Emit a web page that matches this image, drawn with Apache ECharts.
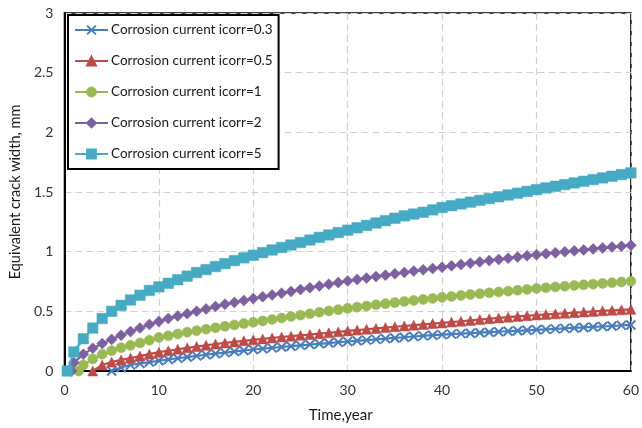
<!DOCTYPE html>
<html>
<head>
<meta charset="utf-8">
<script src="https://cdn.jsdelivr.net/npm/echarts@6/dist/echarts.min.js"></script>
<style>
html,body{margin:0;padding:0;background:#fff;}
#chart{width:642px;height:428px;}
</style>
</head>
<body>
<div id="chart"></div>
<script>
// ---- data ----
const years = [1,2,3,4,5,6,7,8,9,10,11,12,13,14,15,16,17,18,19,20,21,22,23,24,25,26,27,28,29,30,
  31,32,33,34,35,36,37,38,39,40,41,42,43,44,45,46,47,48,49,50,51,52,53,54,55,56,57,58,59,60];

const seriesNames = [
  'Corrosion current icorr=0.3',
  'Corrosion current icorr=0.5',
  'Corrosion current icorr=1',
  'Corrosion current icorr=2',
  'Corrosion current icorr=5'
];

// crack onset times (years) for each series
const onset = [5, 3, 1.5, 0.75, 0.3];

// widths (mm): first value at onset, then one per whole year after onset
const w03 = [0, 0.03, 0.05, 0.063, 0.075, 0.086, 0.097, 0.107, 0.117, 0.127, 0.136, 0.145, 0.154, 0.163, 0.172, 0.18,
  0.187, 0.194, 0.201, 0.208, 0.215, 0.222, 0.228, 0.234, 0.241, 0.247, 0.253, 0.259, 0.265, 0.271, 0.277, 0.283,
  0.289, 0.294, 0.3, 0.305, 0.309, 0.313, 0.317, 0.321, 0.325, 0.329, 0.333, 0.337, 0.341, 0.345, 0.349, 0.353,
  0.357, 0.361, 0.365, 0.369, 0.373, 0.377, 0.382, 0.386];
const w05 = [0, 0.05, 0.075, 0.093, 0.108, 0.125, 0.142, 0.158, 0.17, 0.182, 0.194, 0.205, 0.216, 0.226, 0.235, 0.244,
  0.253, 0.261, 0.269, 0.277, 0.285, 0.292, 0.299, 0.306, 0.313, 0.32, 0.328, 0.336, 0.343, 0.35, 0.357, 0.364,
  0.371, 0.377, 0.384, 0.39, 0.397, 0.403, 0.41, 0.417, 0.424, 0.431, 0.438, 0.445, 0.451, 0.457, 0.463, 0.469,
  0.474, 0.479, 0.484, 0.489, 0.494, 0.499, 0.504, 0.509, 0.513, 0.517];
const w1 = [0, 0.05, 0.10, 0.14, 0.17, 0.195, 0.215, 0.235, 0.258, 0.28, 0.295, 0.31, 0.325, 0.338, 0.35, 0.362, 0.374,
  0.386, 0.397, 0.408, 0.42, 0.432, 0.444, 0.456, 0.468, 0.48, 0.492, 0.503, 0.514, 0.525, 0.535, 0.545, 0.555,
  0.564, 0.573, 0.582, 0.591, 0.6, 0.608, 0.617, 0.625, 0.633, 0.641, 0.648, 0.655, 0.662, 0.669, 0.676, 0.684,
  0.692, 0.698, 0.704, 0.71, 0.716, 0.722, 0.728, 0.734, 0.74, 0.746, 0.752];
const w2 = [0, 0.07, 0.14, 0.19, 0.23, 0.265, 0.30, 0.33, 0.36, 0.39, 0.415, 0.44, 0.46, 0.48, 0.50, 0.52, 0.54, 0.56,
  0.575, 0.59, 0.607, 0.622, 0.637, 0.652, 0.667, 0.682, 0.697, 0.712, 0.727, 0.741, 0.755, 0.767, 0.779, 0.791,
  0.803, 0.815, 0.826, 0.837, 0.848, 0.859, 0.87, 0.881, 0.892, 0.903, 0.914, 0.925, 0.935, 0.945, 0.955, 0.965,
  0.975, 0.983, 0.991, 0.999, 1.007, 1.015, 1.023, 1.031, 1.039, 1.046, 1.053];
const w5 = [0, 0.16, 0.27, 0.36, 0.44, 0.50, 0.55, 0.595, 0.635, 0.675, 0.705, 0.735, 0.765, 0.795, 0.825, 0.85, 0.875,
  0.9, 0.925, 0.948, 0.97, 0.992, 1.014, 1.035, 1.056, 1.077, 1.098, 1.12, 1.14, 1.16, 1.18, 1.2, 1.22, 1.24, 1.26,
  1.28, 1.30, 1.315, 1.33, 1.35, 1.37, 1.385, 1.40, 1.415, 1.43, 1.445, 1.46, 1.475, 1.49, 1.505, 1.52, 1.534,
  1.548, 1.562, 1.576, 1.59, 1.604, 1.618, 1.632, 1.646, 1.66];

const widths = [w03, w05, w1, w2, w5];
const xTicks = [0, 10, 20, 30, 40, 50, 60];
const yTicks = [0, 0.5, 1, 1.5, 2, 2.5, 3];

// ---- build ----
function pairs(start, vals) {
  const xs = [start].concat(years.filter(y => y > start));
  const n = Math.min(xs.length, vals.length);
  const out = [];
  for (let i = 0; i < n; i++) out.push([xs[i], vals[i]]);
  return out;
}

const colors = ['#4A7EBB', '#BE4B48', '#98B954', '#7D60A0', '#46AAC5'];
const symbols = ['path://M0,0L10,10M10,0L0,10', 'triangle', 'circle', 'diamond', 'rect'];
const sizes = [9, 10, 10, 11, 10.5];
const FONT = 'Lato';

const series = seriesNames.map((name, i) => ({
  name: name,
  type: 'line',
  data: pairs(onset[i], widths[i]),
  symbol: symbols[i],
  symbolSize: sizes[i],
  showAllSymbol: true,
  smooth: false,
  lineStyle: { color: colors[i], width: 2.2 },
  itemStyle: i === 0
    ? { color: 'rgba(0,0,0,0)', borderColor: colors[i], borderWidth: 2 }
    : { color: colors[i], borderColor: colors[i], borderWidth: 0.5 },
  emphasis: { disabled: true },
  animation: false,
  z: 2 + i
}));

const chart = echarts.init(document.getElementById('chart'), null, { renderer: 'canvas' });
chart.setOption({
  backgroundColor: '#fff',
  animation: false,
  textStyle: { fontFamily: FONT },
  grid: {
    left: 63, right: 8, top: 13, bottom: 55,
    show: true, borderColor: '#000', borderWidth: 1.5, backgroundColor: 'transparent'
  },
  legend: {
    orient: 'vertical',
    left: 68, top: 15,
    padding: [8, 6, 8, 6],
    itemGap: 17,
    itemWidth: 33, itemHeight: 11,
    backgroundColor: '#fff',
    borderColor: '#000', borderWidth: 2, borderRadius: 0,
    textStyle: { fontFamily: FONT, fontSize: 13.5, color: '#1a1a1a', padding: [0, 0, 0, -2] },
    data: seriesNames
  },
  xAxis: {
    type: 'value',
    min: xTicks[0], max: xTicks[xTicks.length - 1], interval: 10,
    name: 'Time,year',
    nameLocation: 'middle',
    nameGap: 37,
    nameTextStyle: { fontFamily: FONT, fontSize: 15, color: '#1a1a1a', padding: [0, 14, 0, 0] },
    axisLine: { show: true, lineStyle: { color: '#000', width: 2 } },
    axisTick: { show: false },
    axisLabel: { fontFamily: FONT, fontSize: 14, color: '#333', margin: 12,
      formatter: v => (xTicks.indexOf(v) >= 0 ? String(v) : '') },
    splitLine: { show: true, lineStyle: { color: '#D2D2D2', type: [7, 4], width: 1.2 } }
  },
  yAxis: {
    type: 'value',
    min: yTicks[0], max: yTicks[yTicks.length - 1], interval: 0.5,
    name: 'Equivalent crack width, mm',
    nameLocation: 'middle',
    nameGap: 34,
    nameTextStyle: { fontFamily: FONT, fontSize: 14.5, color: '#1a1a1a' },
    axisLine: { show: true, lineStyle: { color: '#000', width: 2 } },
    axisTick: { show: false },
    axisLabel: { fontFamily: FONT, fontSize: 14, color: '#333', margin: 11,
      formatter: v => (yTicks.indexOf(v) >= 0 ? String(v) : '') },
    splitLine: { show: true, lineStyle: { color: '#D2D2D2', type: [7, 4], width: 1.2 } }
  },
  series: series
});
</script>
</body>
</html>
